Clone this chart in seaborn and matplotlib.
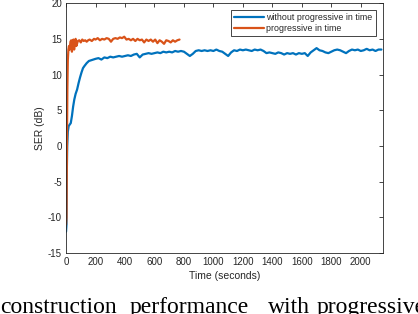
import matplotlib
matplotlib.use("Agg")
import matplotlib.pyplot as plt
import seaborn as sns

# without progressive in time (blue)
t_base = [0, 3, 5, 8, 12, 18, 25, 32, 40, 48, 56, 65, 75, 85, 95, 105, 115, 125, 140, 155,
          170, 185, 200, 220, 240, 260, 280, 300, 320, 340, 360, 380, 400, 420, 440, 460, 480,
          500, 520, 540, 560, 580, 600, 620, 640, 660, 680, 700, 720, 740, 760, 780, 800, 820,
          840, 860, 880, 900, 920, 940, 960, 980, 1000, 1020, 1040, 1060, 1080, 1100, 1120,
          1140, 1160, 1180, 1200, 1220, 1240, 1260, 1280, 1300, 1320, 1340, 1360, 1380, 1400,
          1420, 1440, 1460, 1480, 1500, 1520, 1540, 1560, 1580, 1600, 1620, 1640, 1660, 1680,
          1700, 1720, 1740, 1760, 1780, 1800, 1820, 1840, 1860, 1880, 1900, 1920, 1940, 1960,
          1980, 2000, 2020, 2040, 2060, 2080, 2100, 2120, 2140]
ser_base = [-12.0, -11.0, -4.0, 0.0, 2.0, 2.8, 3.0, 3.2, 4.2, 5.5, 6.5, 7.3, 7.9, 8.8, 9.6,
            10.3, 10.9, 11.2, 11.6, 11.9, 12.0, 12.1, 12.2, 12.3, 12.1, 12.4, 12.3, 12.5, 12.4,
            12.5, 12.6, 12.5, 12.6, 12.7, 12.6, 12.8, 12.9, 12.4, 12.8, 12.9, 13.0, 12.9, 13.0,
            13.1, 13.0, 13.2, 13.1, 13.2, 13.1, 13.3, 13.2, 13.3, 13.2, 12.9, 12.6, 12.9, 13.3,
            13.4, 13.3, 13.4, 13.3, 13.4, 13.3, 13.5, 13.3, 13.2, 12.9, 12.6, 13.1, 13.4, 13.3,
            13.5, 13.4, 13.5, 13.4, 13.3, 13.5, 13.4, 13.5, 13.3, 13.0, 13.1, 13.0, 12.9, 13.1,
            13.0, 12.8, 13.0, 12.9, 13.0, 12.8, 13.0, 12.9, 13.0, 12.6, 13.1, 13.4, 13.7, 13.4,
            13.3, 13.1, 13.0, 13.2, 13.4, 13.5, 13.4, 13.2, 13.0, 13.3, 13.5, 13.4, 13.5, 13.3,
            13.4, 13.6, 13.4, 13.5, 13.3, 13.5, 13.5]

# progressive in time (orange)
t_prog = [0, 3, 6, 9, 12, 16, 20, 25, 30, 35, 40, 45, 50, 55, 60, 65, 70, 80, 90, 100, 110,
          120, 130, 140, 150, 160, 175, 190, 200, 215, 230, 245, 260, 275, 290, 305, 320, 335,
          350, 365, 380, 395, 410, 425, 440, 455, 470, 485, 500, 515, 530, 545, 560, 575, 590,
          605, 620, 635, 650, 665, 680, 695, 710, 725, 740, 755, 770]
ser_prog = [-11.0, -10.0, 0.0, 8.0, 12.0, 13.5, 14.0, 13.5, 14.6, 14.8, 13.2, 14.6, 14.9, 13.5,
            14.7, 15.0, 14.0, 14.7, 14.8, 14.5, 14.9, 14.7, 14.8, 14.6, 14.8, 14.9, 14.7, 15.0,
            14.9, 15.1, 14.8, 15.0, 14.9, 15.1, 15.0, 14.6, 15.0, 15.1, 15.0, 15.2, 15.1, 15.3,
            14.9, 15.0, 14.8, 15.0, 14.7, 15.0, 14.8, 14.9, 14.5, 14.9, 14.7, 14.9, 14.6, 14.9,
            14.4, 14.8, 14.6, 14.3, 14.8, 14.7, 14.5, 14.8, 14.6, 14.8, 14.9]

x_ticks = list(range(0, 2001, 200))
y_ticks = list(range(-15, 21, 5))

# caption words below the figure (justified in the source, so placed one by one)
caption_words = ["construction", "performance", "with", "progressive"]
caption_x = [0, 130, 268, 317]

sns.set_theme(style="white")
plt.rcParams['font.family'] = ['Liberation Sans', 'DejaVu Sans']
plt.rcParams['axes.unicode_minus'] = False
axis_col = "#262626"

fig = plt.figure(figsize=(4.18, 3.14), dpi=100)
ax = fig.add_axes([0.158, 0.194, 0.758, 0.796])

sns.lineplot(x=t_base, y=ser_base, ax=ax, color="#0072BD", linewidth=1.6,
             estimator=None, sort=False, label="without progressive in time")
sns.lineplot(x=t_prog, y=ser_prog, ax=ax, color="#D95319", linewidth=1.6,
             estimator=None, sort=False, label="progressive in time")

ax.set_xlim(0, 2150)
ax.set_ylim(-15, 20)
ax.set_xticks(x_ticks)
ax.set_yticks(y_ticks)
ax.tick_params(direction="in", length=3, width=0.6, colors=axis_col, labelsize=7,
               top=True, right=True, pad=3)
for sp in ax.spines.values():
    sp.set_color(axis_col)
    sp.set_linewidth(0.6)
ax.set_xlabel("Time (seconds)", fontsize=7.5, color=axis_col, labelpad=3)
ax.set_ylabel("SER (dB)", fontsize=7.5, color=axis_col, labelpad=2)

leg = ax.legend(loc="upper right", fontsize=6.4, frameon=True, fancybox=False, framealpha=1,
                edgecolor=axis_col, handlelength=3.3, borderpad=0.35, labelspacing=0.2,
                handletextpad=0.3, borderaxespad=0.8)
leg.get_frame().set_linewidth(0.6)

for word, px in zip(caption_words, caption_x):
    fig.text(px / 418, 1 / 314, word, fontsize=17, family="Liberation Serif",
             va="baseline", ha="left", color="black")

fig.savefig("out.png", dpi=100)
